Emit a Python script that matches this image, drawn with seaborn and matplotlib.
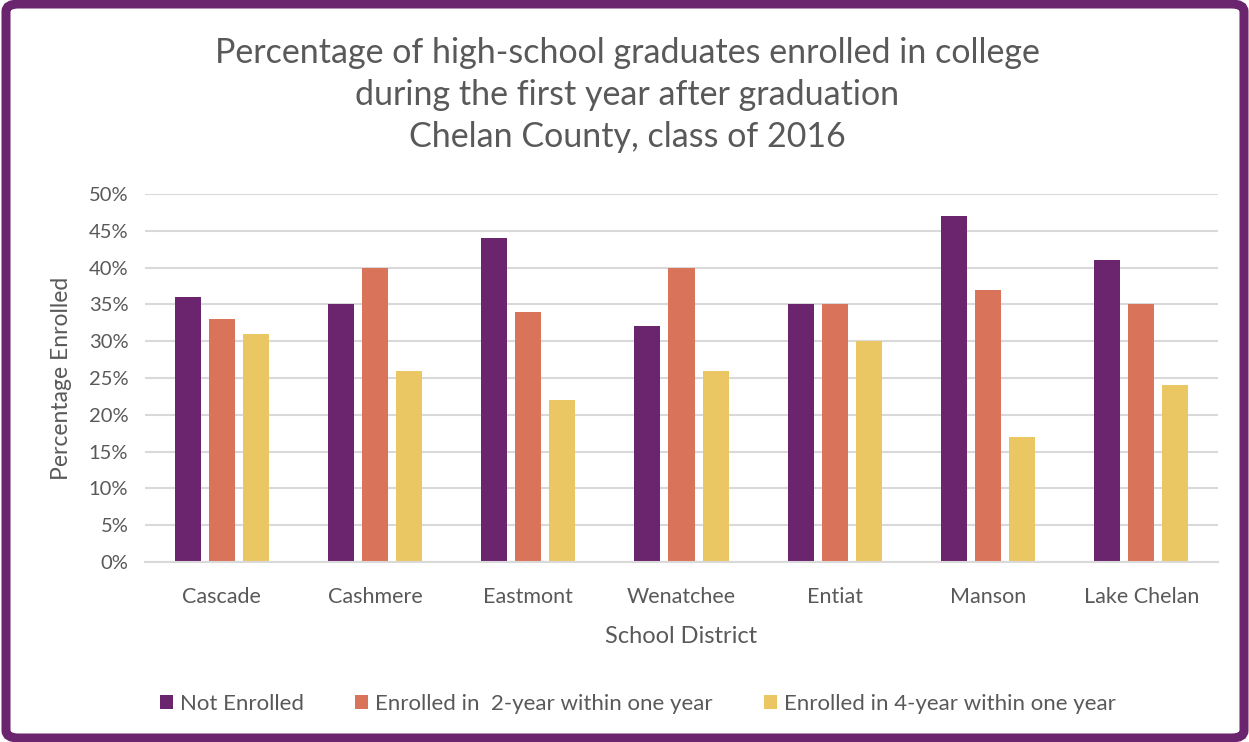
import matplotlib
matplotlib.use("Agg")
import matplotlib.pyplot as plt
from matplotlib.patches import FancyBboxPatch
from matplotlib.ticker import PercentFormatter
import seaborn as sns
import pandas as pd

districts = ["Cascade", "Cashmere", "Eastmont", "Wenatchee", "Entiat", "Manson", "Lake Chelan"]
series_names = ["Not Enrolled", "Enrolled in  2-year within one year", "Enrolled in 4-year within one year"]
not_enrolled = [36, 35, 44, 32, 35, 47, 41]
two_year = [33, 40, 34, 40, 35, 37, 35]
four_year = [31, 26, 22, 26, 30, 17, 24]
colors = ["#6B246E", "#D9735A", "#EBC764"]

rows = []
for name, vals in zip(series_names, [not_enrolled, two_year, four_year]):
    for d, v in zip(districts, vals):
        rows.append({"District": d, "Series": name, "Value": v})
df = pd.DataFrame(rows)

sns.set_theme(style="white")
plt.rcParams["font.family"] = ["Lato", "DejaVu Sans"]
gray = "#595959"

fig = plt.figure(figsize=(12.49, 7.42), dpi=100)
ax = fig.add_axes([145/1249, 1-562/742, (1218-145)/1249, (562-194)/742])

sns.barplot(data=df, x="District", y="Value", hue="Series", order=districts,
            hue_order=series_names, palette=colors, width=0.667, gap=0.235,
            saturation=1, linewidth=0, ax=ax, legend=True)

ax.set_ylim(0, 50)
ax.set_xlim(-0.5, 6.5)
ax.set_yticks(range(0, 51, 5))
ax.yaxis.set_major_formatter(PercentFormatter(decimals=0))
ax.grid(axis="y", color="#d9d9d9", linewidth=1.5)
ax.set_axisbelow(True)
for s in ["top", "right", "left"]:
    ax.spines[s].set_visible(False)
ax.spines["bottom"].set_color("#d9d9d9")
ax.spines["bottom"].set_linewidth(1.5)
ax.tick_params(axis="y", length=0, labelsize=14.5, colors=gray, pad=12)
ax.tick_params(axis="x", length=0, labelsize=15.5, colors=gray, pad=18)
ax.set_xlabel("School District", fontsize=17, color=gray, labelpad=14)
ax.set_ylabel("Percentage Enrolled", fontsize=16.5, color=gray, labelpad=12)

leg = ax.legend(loc="center left", ncol=3,
                frameon=False, fontsize=16, handlelength=0.6, handleheight=0.6,
                handletextpad=0.3, columnspacing=2.3, labelcolor=gray)
leg.set_bbox_to_anchor((140/1249, 1-704/742), transform=fig.transFigure)

fig.text(0.502, 1-95/742, "Percentage of high-school graduates enrolled in college\nduring the first year after graduation\nChelan County, class of 2016",
         ha="center", va="center", fontsize=24.5, color=gray, linespacing=1.38)

border = FancyBboxPatch((6/1249, 4/742), 1-11/1249, 1-8/742,
                        boxstyle="round,pad=0,rounding_size=0.01",
                        transform=fig.transFigure, fill=False,
                        edgecolor="#6B246E", linewidth=6.5, zorder=10)
fig.patches.append(border)

fig.savefig("out.png", dpi=100)
